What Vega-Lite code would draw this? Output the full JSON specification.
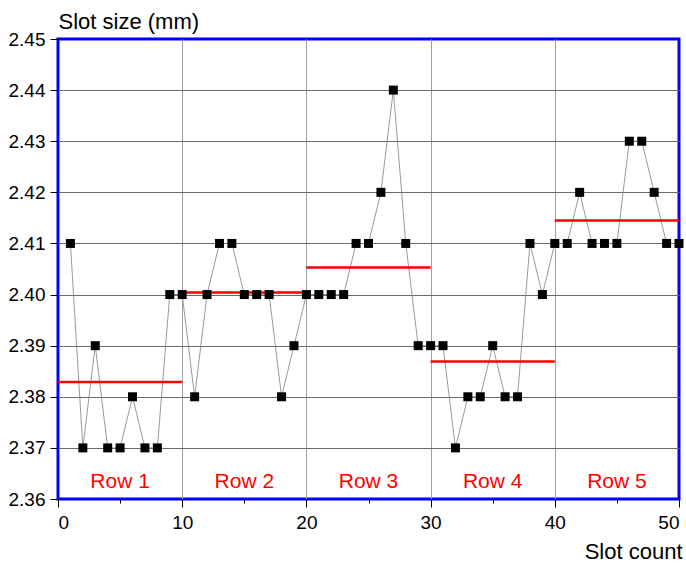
{
  "$schema": "https://vega.github.io/schema/vega-lite/v6.json",
  "width": 621,
  "height": 460,
  "autosize": "none",
  "padding": {"left": 58, "top": 39, "right": 7, "bottom": 64},
  "background": "white",
  "config": {
    "view": {"stroke": "#0000ff", "strokeWidth": 3},
    "font": "Liberation Sans",
    "axis": {
      "labelFont": "Liberation Sans",
      "titleFont": "Liberation Sans",
      "labelFontSize": 19,
      "titleFontSize": 22,
      "titleFontWeight": "normal",
      "labelColor": "#000",
      "titleColor": "#000",
      "tickColor": "#000",
      "domain": false
    }
  },
  "datasets": {
    "points": [
      {"count": 1, "size": 2.41}, {"count": 2, "size": 2.37}, {"count": 3, "size": 2.39}, {"count": 4, "size": 2.37}, {"count": 5, "size": 2.37},
      {"count": 6, "size": 2.38}, {"count": 7, "size": 2.37}, {"count": 8, "size": 2.37}, {"count": 9, "size": 2.40}, {"count": 10, "size": 2.40},
      {"count": 11, "size": 2.38}, {"count": 12, "size": 2.40}, {"count": 13, "size": 2.41}, {"count": 14, "size": 2.41}, {"count": 15, "size": 2.40},
      {"count": 16, "size": 2.40}, {"count": 17, "size": 2.40}, {"count": 18, "size": 2.38}, {"count": 19, "size": 2.39}, {"count": 20, "size": 2.40},
      {"count": 21, "size": 2.40}, {"count": 22, "size": 2.40}, {"count": 23, "size": 2.40}, {"count": 24, "size": 2.41}, {"count": 25, "size": 2.41},
      {"count": 26, "size": 2.42}, {"count": 27, "size": 2.44}, {"count": 28, "size": 2.41}, {"count": 29, "size": 2.39}, {"count": 30, "size": 2.39},
      {"count": 31, "size": 2.39}, {"count": 32, "size": 2.37}, {"count": 33, "size": 2.38}, {"count": 34, "size": 2.38}, {"count": 35, "size": 2.39},
      {"count": 36, "size": 2.38}, {"count": 37, "size": 2.38}, {"count": 38, "size": 2.41}, {"count": 39, "size": 2.40}, {"count": 40, "size": 2.41},
      {"count": 41, "size": 2.41}, {"count": 42, "size": 2.42}, {"count": 43, "size": 2.41}, {"count": 44, "size": 2.41}, {"count": 45, "size": 2.41},
      {"count": 46, "size": 2.43}, {"count": 47, "size": 2.43}, {"count": 48, "size": 2.42}, {"count": 49, "size": 2.41}, {"count": 50, "size": 2.41}
    ],
    "rows": [
      {"row": "Row 1", "start": 0, "end": 10, "mid": 5, "mean": 2.3829},
      {"row": "Row 2", "start": 10, "end": 20, "mid": 15, "mean": 2.4004},
      {"row": "Row 3", "start": 20, "end": 30, "mid": 25, "mean": 2.4053},
      {"row": "Row 4", "start": 30, "end": 40, "mid": 35, "mean": 2.3869},
      {"row": "Row 5", "start": 40, "end": 50, "mid": 45, "mean": 2.4145}
    ]
  },
  "layer": [
    {
      "data": {"name": "points"},
      "mark": {"type": "line", "color": "#808080", "strokeWidth": 0.8},
      "encoding": {
        "x": {
          "field": "count", "type": "quantitative",
          "scale": {"domain": [0, 50], "nice": false, "zero": false},
          "axis": {
            "values": [0, 5, 10, 15, 20, 25, 30, 35, 40, 45, 50],
            "labelExpr": "datum.value % 10 === 0 ? datum.label : ''",
            "tickSize": {"condition": {"test": "datum.value % 10 === 0", "value": 8}, "value": 4},
            "labelPadding": 6,
            "grid": true,
            "gridColor": "#a0a0a0",
            "gridWidth": 1,
            "gridOpacity": {"condition": {"test": "datum.value % 10 === 0 && datum.value > 0 && datum.value < 50", "value": 1}, "value": 0},
            "title": "Slot count",
            "titleAngle": 0,
            "titleAlign": "right",
            "titleBaseline": "alphabetic",
            "titleX": 624,
            "titleY": 59
          }
        },
        "y": {
          "field": "size", "type": "quantitative",
          "scale": {"domain": [2.36, 2.45], "nice": false, "zero": false},
          "axis": {
            "values": [2.36, 2.365, 2.37, 2.375, 2.38, 2.385, 2.39, 2.395, 2.40, 2.405, 2.41, 2.415, 2.42, 2.425, 2.43, 2.435, 2.44, 2.445, 2.45],
            "labelExpr": "round(datum.value * 1000) % 10 === 0 ? format(datum.value, '.2f') : ''",
            "tickSize": {"condition": {"test": "round(datum.value * 1000) % 10 === 0", "value": 8}, "value": 4},
            "labelPadding": 5,
            "grid": true,
            "gridColor": "#6a6a6a",
            "gridWidth": 1,
            "gridOpacity": {"condition": {"test": "round(datum.value * 1000) % 10 === 0 && datum.value > 2.361 && datum.value < 2.449", "value": 1}, "value": 0},
            "title": "Slot size (mm)",
            "titleAngle": 0,
            "titleAlign": "left",
            "titleBaseline": "alphabetic",
            "titleX": 0,
            "titleY": -11
          }
        }
      }
    },
    {
      "data": {"name": "rows"},
      "mark": {"type": "rule", "color": "#ff0000", "strokeWidth": 2.5},
      "encoding": {
        "x": {"field": "start", "type": "quantitative"},
        "x2": {"field": "end"},
        "y": {"field": "mean", "type": "quantitative"}
      }
    },
    {
      "data": {"name": "rows"},
      "mark": {"type": "text", "color": "#ff0000", "fontSize": 21, "font": "Liberation Sans", "baseline": "alphabetic", "align": "center"},
      "encoding": {
        "x": {"field": "mid", "type": "quantitative"},
        "y": {"datum": 2.3622, "type": "quantitative"},
        "text": {"field": "row"}
      }
    },
    {
      "data": {"name": "points"},
      "mark": {"type": "square", "size": 81, "color": "#000000", "opacity": 1, "filled": true},
      "encoding": {
        "x": {"field": "count", "type": "quantitative"},
        "y": {"field": "size", "type": "quantitative"}
      }
    }
  ]
}
